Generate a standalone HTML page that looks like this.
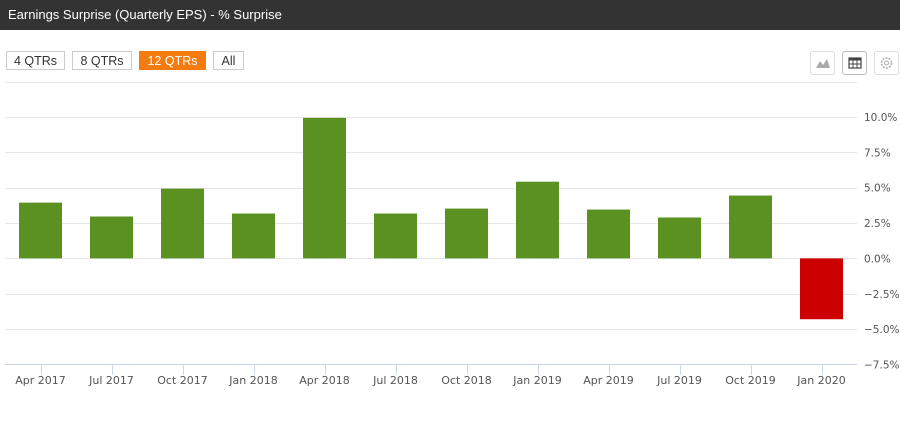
<!DOCTYPE html>
<html><head><meta charset="utf-8"><style>
body{margin:0;width:900px;height:437px;background:#fff;font-family:"Liberation Sans",sans-serif;overflow:hidden;position:relative}
.hdr{position:absolute;left:0;top:0;width:900px;height:30px;background:#333;color:#fff;font-size:13px;line-height:30px;padding-left:8px;box-sizing:border-box}
.btn{position:absolute;top:51px;height:19px;border:1px solid #ccc;font-size:12.5px;line-height:19px;text-align:center;color:#333;box-sizing:border-box;background:#fff}
.ic{position:absolute;top:51px;width:25px;height:24px;border:1px solid #ddd;border-radius:3px;box-sizing:border-box;background:#fff}
</style></head><body>
<div class="hdr">Earnings Surprise (Quarterly EPS) - % Surprise</div>
<div class="btn" style="left:6px;width:59px">4 QTRs</div>
<div class="btn" style="left:72px;width:60px">8 QTRs</div>
<div class="btn" style="left:139px;width:67px;background:#f47b0f;border-color:#f47b0f;color:#fff">12 QTRs</div>
<div class="btn" style="left:213px;width:31px">All</div>
<div class="ic" style="left:810px"><svg width="23" height="22"><path d="M5 16 L9 9 L12 13 L16 7 L19 16Z" fill="#aaa"/></svg></div>
<div class="ic" style="left:842px;border-color:#bbb"><svg width="23" height="22"><rect x="6" y="6" width="12" height="10" fill="none" stroke="#444" stroke-width="1.2"/><rect x="6" y="6" width="12" height="2.5" fill="#444"/><path d="M10 8v8M14 8v8M6 12h12" stroke="#444"/></svg></div>
<div class="ic" style="left:874px"><svg width="23" height="22"><circle cx="11.5" cy="11" r="5" fill="none" stroke="#aaa" stroke-width="1.5" stroke-dasharray="2 1.2"/><circle cx="11.5" cy="11" r="2" fill="none" stroke="#aaa"/></svg></div>
<svg id="chart" width="900" height="437" style="position:absolute;left:0;top:0"></svg>
<script>
const categories=["Apr 2017","Jul 2017","Oct 2017","Jan 2018","Apr 2018","Jul 2018","Oct 2018","Jan 2019","Apr 2019","Jul 2019","Oct 2019","Jan 2020"];
const surprise=[3.94,2.96,4.93,3.17,9.93,3.17,3.52,5.42,3.45,2.89,4.44,-4.30];
const yTicks=[12.5,10,7.5,5,2.5,0,-2.5,-5,-7.5];
const yTickLabels=["","10.0%","7.5%","5.0%","2.5%","0.0%","-2.5%","-5.0%","-7.5%"];
const NS="http://www.w3.org/2000/svg";
const svg=document.getElementById("chart");
const x0=5,x1=857,yTop=81.5,yBot=364.5,vMax=12.5,vMin=-7.5;
const y=v=>yTop+(vMax-v)/(vMax-vMin)*(yBot-yTop);
const step=(x1-x0)/categories.length;
const xc=i=>x0+step*(i+0.5);
function mk(t,a){const e=document.createElementNS(NS,t);for(const k in a)e.setAttribute(k,a[k]);svg.appendChild(e);return e;}
yTicks.forEach((v,i)=>{
  if(i<yTicks.length-1){const g=mk("line",{x1:x0,x2:x1,y1:Math.round(y(v))+0.5,y2:Math.round(y(v))+0.5,stroke:"#e6e6e6"});
  
  }
  const t=mk("text",{x:864,y:y(v)+4,"font-size":"10.5","font-family":"DejaVu Sans, sans-serif",fill:"#555"});
  t.textContent=yTickLabels[i].replace("-","−");
  
  
});
const ax=mk("line",{x1:x0,x2:x1,y1:yBot,y2:yBot,stroke:"#ccd6eb"});


surprise.forEach((v,i)=>{
  const top=y(Math.max(v,0)),bot=y(Math.min(v,0));
  const r=mk("rect",{x:xc(i)-21.5,y:top,width:43,height:bot-top,fill:v>=0?"#5b9120":"#cc0000"});
  
  
  const tk=mk("line",{x1:Math.round(xc(i))+0.5,x2:Math.round(xc(i))+0.5,y1:yBot,y2:yBot+10,stroke:"#ccd6eb"});
  
  
  const t=mk("text",{x:xc(i),y:384,"text-anchor":"middle","font-size":"11","font-family":"DejaVu Sans, sans-serif",fill:"#555"});
  t.textContent=categories[i];
  
  
});
</script>
</body></html>
